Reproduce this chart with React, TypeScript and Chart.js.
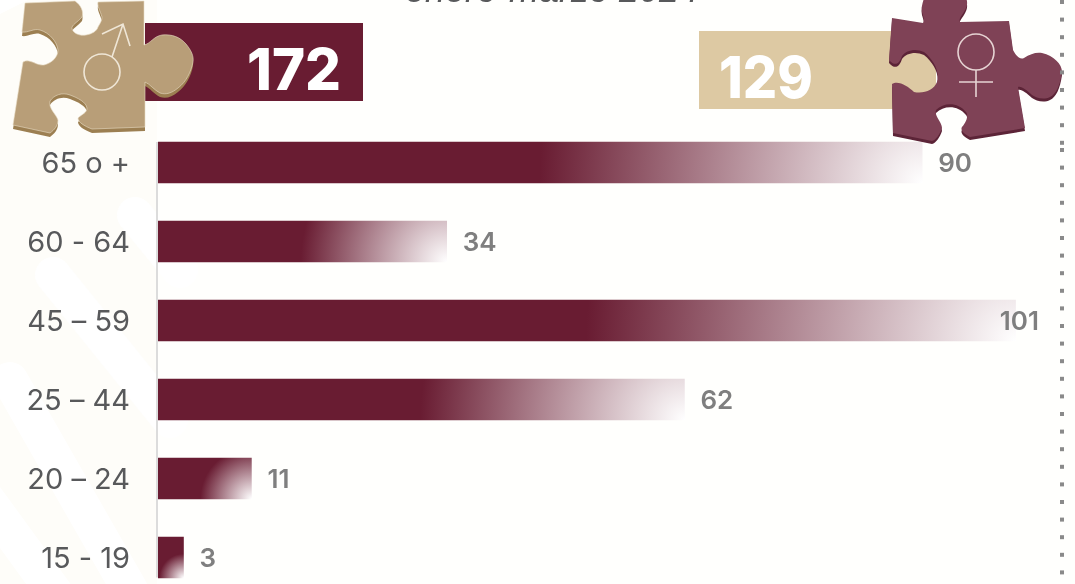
import React, { useEffect, useRef } from "react";
import { Chart, registerables } from "chart.js";

Chart.register(...registerables);

const ageGroups = ["65 o +", "60 - 64", "45 – 59", "25 – 44", "20 – 24", "15 - 19"];
const deaths = [90, 34, 101, 62, 11, 3];
const maleTotal = "172";
const femaleTotal = "129";
const period = "enero-marzo 2024";

const WINE = "#691c32";
const FONT = "Inter, 'Open Sans', sans-serif";

const upperDots = [2, 19.6, 37.2, 54.8, 72.4, 90, 107.6, 125.2, 142.8];
const lowerDots = [150, 167.6, 185.2, 202.8, 220.4, 238, 255.6, 273.2, 290.8, 308.4, 326, 343.6, 361.2, 378.8, 396.4, 414, 431.6, 449.2, 466.8, 484.4, 502, 519.6, 537.2, 554.8, 572.4];

const MALE_PATH =
  "M25 3 L75 1 C81 5 84 12 82 17 C78 22 71 25 72 29 C74 34 80 36 86 35 C92 34 97 31 98 27 C101 22 102 20 102 17 C100 10 97 6 98 2 L144 1 L144 45 C150 44 154 36 162 35 C172 34 180 37 186 44 C191 50 194 56 193 62 C191 72 186 82 178 88 C172 93 166 95 160 93 C154 90 150 84 145 82 L145 127 L92 129 C84 126 78 122 78 118 C82 114 87 113 87 108 C86 102 78 98 70 95 C62 92 54 95 50 101 C48 108 56 114 58 120 C58 126 54 130 50 133 L13 125 L23 62 C30 58 36 66 44 65 C52 63 58 57 58 50 C57 42 50 33 40 30 C34 28 28 33 22 32 Z";
const FEMALE_PATH =
  "M892 18 L923 23 C926 18 920 12 922 6 C923 0 925 -6 930 -8 L960 -8 C968 -4 968 4 966 8 C964 14 958 18 960 22 L1009 21 L1013 50 C1016 56 1020 60 1024 58 C1030 54 1036 52 1042 53 C1054 56 1062 64 1062 72 C1060 86 1056 94 1050 97 C1044 100 1036 98 1032 95 C1026 90 1022 86 1018 87 L1025 128 L970 137 C964 134 960 130 962 127 C968 120 968 114 966 112 C958 102 944 102 936 110 C934 116 942 122 942 128 C940 134 936 140 932 141 L893 133 L892 84 C898 80 908 86 914 92 C924 94 934 90 937 82 C940 72 934 60 924 52 C916 48 906 50 902 56 C900 62 896 68 889 60 Z";

function barGradient(context: any) {
  const { chart, dataIndex } = context;
  const xs = chart.scales.x;
  const ys = chart.scales.y;
  if (!xs || !ys || !Number.isInteger(dataIndex)) return WINE;
  const right = xs.getPixelForValue(deaths[dataIndex]);
  const w = right - xs.getPixelForValue(0);
  const h = 41;
  const bottom = ys.getPixelForValue(dataIndex) + h / 2;
  const radius = Math.hypot(w, h) / 2;
  if (![right, bottom, radius].every(Number.isFinite)) return WINE;
  const g = chart.ctx.createRadialGradient(right, bottom, 0, right, bottom, radius);
  g.addColorStop(0, "#ffffff");
  g.addColorStop(1, WINE);
  return g;
}

const valueLabels = {
  id: "valueLabels",
  afterDatasetsDraw(chart: any) {
    const { ctx } = chart;
    const meta = chart.getDatasetMeta(0);
    ctx.save();
    ctx.font = `600 26px ${FONT}`;
    ctx.fillStyle = "#7f7f7f";
    ctx.textBaseline = "middle";
    meta.data.forEach((bar: any, i: number) => {
      const text = String(deaths[i]);
      const tw = ctx.measureText(text).width;
      let x = bar.x + 16;
      if (x + tw > 1040) x = 1039 - tw;
      ctx.fillText(text, x, bar.y + 2);
    });
    ctx.restore();
  },
};

const axisLine = {
  id: "axisLine",
  afterDatasetsDraw(chart: any) {
    const { ctx, scales, chartArea } = chart;
    const top = scales.y.getPixelForValue(0) - 20.5;
    const bottom = scales.y.getPixelForValue(ageGroups.length - 1) + 20;
    ctx.save();
    ctx.strokeStyle = "#dcdcdc";
    ctx.lineWidth = 2;
    ctx.beginPath();
    ctx.moveTo(chartArea.left - 1, top);
    ctx.lineTo(chartArea.left - 1, bottom);
    ctx.stroke();
    ctx.restore();
  },
};

export default function App() {
  const ref = useRef<HTMLCanvasElement | null>(null);
  useEffect(() => {
    document.body.style.margin = "0";
    document.body.style.overflow = "hidden";
    const chart = new Chart(ref.current!, {
      type: "bar",
      data: {
        labels: ageGroups,
        datasets: [
          {
            data: deaths,
            backgroundColor: barGradient,
            barThickness: 41,
            borderWidth: 0,
          },
        ],
      },
      plugins: [valueLabels, axisLine],
      options: {
        indexAxis: "y",
        animation: false,
        responsive: false,
        layout: { padding: { top: 123, bottom: 43, left: 0, right: 0 } },
        plugins: { legend: { display: false }, tooltip: { enabled: false }, title: { display: false } },
        scales: {
          x: { display: false, min: 0, max: 108 },
          y: {
            afterFit(scale: any) {
              scale.width = 158;
              scale.paddingTop = 0;
              scale.paddingBottom = 0;
            },
            grid: { display: false, drawTicks: false },
            border: { display: false },
            ticks: {
              color: "#58595b",
              padding: 28,
              labelOffset: 1.5,
              font: { family: FONT, size: 29, weight: "400" },
            },
          },
        },
      },
    } as any);
    return () => chart.destroy();
  }, []);

  return (
    <div style={{ position: "fixed", left: 0, top: 0, width: 1075, height: 584, overflow: "hidden", background: "#fff" }}>
      <svg width={1075} height={584} style={{ position: "absolute", left: 0, top: 0 }}>
        <rect x={150} y={0} width={925} height={584} fill="#fffffd" />
        <rect x={0} y={0} width={157} height={584} fill="#fefdf9" />
        <g stroke="#ffffff" strokeWidth={36} strokeLinecap="round" fill="none">
          <path d="M53 275 L170 420" />
          <path d="M10 380 L130 590" />
          <path d="M-20 490 L60 600" />
          <path d="M135 215 L180 270" />
        </g>
        <polygon points="0,0 28,0 0,14" fill="#ffffff" />
      </svg>
      <canvas ref={ref} width={1075} height={640} style={{ position: "absolute", left: 0, top: 0, display: "block" }} />
      <svg width={1075} height={584} style={{ position: "absolute", left: 0, top: 0 }}>
        <text x={552} y={2} textAnchor="middle" fontFamily="'Liberation Sans', sans-serif" fontStyle="italic" fontSize={36} fill="#58595b">
          {period}
        </text>

        <rect x={145} y={23} width={218} height={78} fill={WINE} />
        <text x={247} y={89.5} textLength={94} lengthAdjust="spacingAndGlyphs" fontFamily={FONT} fontWeight={800} fontSize={58} fill="#fff">
          {maleTotal}
        </text>
        <path d={MALE_PATH} fill="#9c7f52" transform="translate(0,4)" />
        <path d={MALE_PATH} fill="#b89e78" stroke="#e8dcc4" strokeWidth={0.6} />
        <g fill="none" stroke="#efe6d6" strokeWidth={1.6}>
          <circle cx={102} cy={72} r={18} />
          <path d="M112 57 L123 24 M102 34 L123 24 L130 46" />
        </g>

        <rect x={699} y={31} width={237} height={78} fill="#ddc9a3" />
        <text x={719} y={98} textLength={94} lengthAdjust="spacingAndGlyphs" fontFamily={FONT} fontWeight={800} fontSize={58} fill="#fff">
          {femaleTotal}
        </text>
        <path d={FEMALE_PATH} fill="#5c2437" transform="translate(0,3)" />
        <path d={FEMALE_PATH} fill="#7f4256" />
        <g fill="none" stroke="#e6d3d3" strokeWidth={1.6}>
          <circle cx={976} cy={52} r={18} />
          <path d="M976 70 L976 97 M959 82 L993 82" />
        </g>

        <g fill="#8a8a8a">
          {[...upperDots, ...lowerDots].map((y, i) => (
            <rect key={i} x={1060} y={y - 2} width={4} height={4} />
          ))}
        </g>
      </svg>
    </div>
  );
}
